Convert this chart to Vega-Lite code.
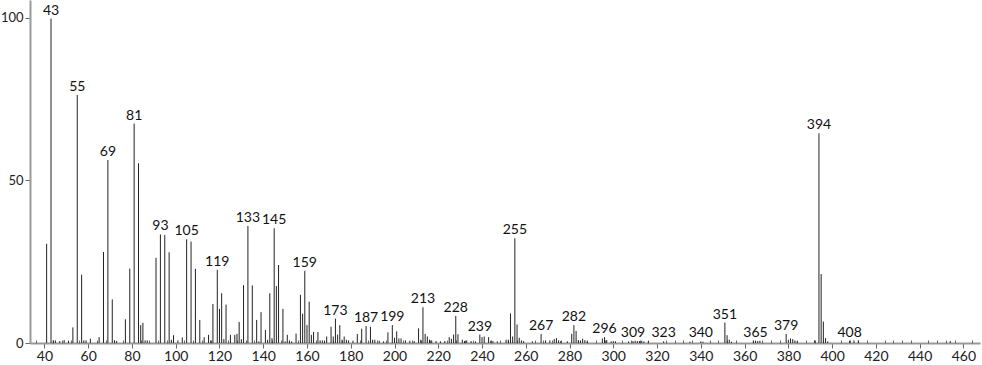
{
  "$schema": "https://vega.github.io/schema/vega-lite/v6.json",
  "width": 950,
  "height": 343,
  "autosize": {"type": "none"},
  "padding": {"left": 30, "top": 0, "right": 2, "bottom": 22},
  "background": "white",
  "config": {
    "view": {"stroke": null},
    "axis": {"grid": false, "labelFont": "Lato", "labelFontSize": 14, "labelColor": "#222", "domainColor": "#999", "domainWidth": 2, "tickColor": "#666", "tickWidth": 1, "title": null}
  },
  "data": {"values": [
    {"mz":41,"rel":30.5},{"mz":43,"rel":99.8,"lab":1},{"mz":44,"rel":0.8},{"mz":45,"rel":0.8},{"mz":47,"rel":0.6},{"mz":49,"rel":0.9},{"mz":51,"rel":0.7},{"mz":53,"rel":4.8},
    {"mz":55,"rel":76.3,"lab":1},{"mz":57,"rel":21},{"mz":58,"rel":0.8},{"mz":59,"rel":0.8},{"mz":61,"rel":1.3},{"mz":65,"rel":1.8},{"mz":67,"rel":28},{"mz":69,"rel":56.3,"lab":1},
    {"mz":71,"rel":13.4},{"mz":72,"rel":0.8},{"mz":73,"rel":0.6},{"mz":77,"rel":7.3},{"mz":79,"rel":22.9},{"mz":81,"rel":67.5,"lab":1},{"mz":83,"rel":55.3},{"mz":84,"rel":5.5},
    {"mz":85,"rel":6.2},{"mz":86,"rel":0.8},{"mz":87,"rel":0.8},{"mz":91,"rel":26.2},{"mz":93,"rel":33.4,"lab":1},{"mz":95,"rel":33.2},{"mz":97,"rel":27.9},{"mz":98,"rel":1},
    {"mz":99,"rel":2.4},{"mz":101,"rel":0.8},{"mz":103,"rel":1.7},{"mz":105,"rel":31.9,"lab":1},{"mz":107,"rel":31.2},{"mz":109,"rel":22.8},{"mz":111,"rel":7.1},{"mz":113,"rel":1.8},
    {"mz":115,"rel":2.5},{"mz":116,"rel":0.8},{"mz":117,"rel":12},{"mz":119,"rel":22.5,"lab":1},{"mz":120,"rel":10.5},{"mz":121,"rel":15.3},{"mz":122,"rel":1.2},{"mz":123,"rel":11.8},
    {"mz":125,"rel":2.5},{"mz":127,"rel":2.5},{"mz":128,"rel":2.8},{"mz":129,"rel":6.5},{"mz":130,"rel":1.2},{"mz":131,"rel":17.8},{"mz":133,"rel":36,"lab":1},{"mz":135,"rel":17.7},
    {"mz":137,"rel":7.1},{"mz":138,"rel":0.5},{"mz":139,"rel":9.5},{"mz":141,"rel":4},{"mz":142,"rel":1},{"mz":143,"rel":15.3},{"mz":144,"rel":1.5},{"mz":145,"rel":35.3,"lab":1},
    {"mz":146,"rel":17.5},{"mz":147,"rel":24},{"mz":149,"rel":10.5},{"mz":150,"rel":0.5},{"mz":151,"rel":2.5},{"mz":152,"rel":0.7},{"mz":153,"rel":0.5},{"mz":155,"rel":2.9},
    {"mz":157,"rel":14.8},{"mz":158,"rel":9},{"mz":159,"rel":22.2,"lab":1},{"mz":160,"rel":5.5},{"mz":161,"rel":12.7},{"mz":162,"rel":2.5},{"mz":163,"rel":3.4},{"mz":165,"rel":3.4},
    {"mz":166,"rel":0.8},{"mz":167,"rel":0.8},{"mz":168,"rel":0.6},{"mz":169,"rel":2},{"mz":171,"rel":5},{"mz":172,"rel":2},{"mz":173,"rel":7.5,"lab":1},{"mz":174,"rel":2.6},
    {"mz":175,"rel":5.5},{"mz":176,"rel":1},{"mz":177,"rel":2},{"mz":178,"rel":1},{"mz":179,"rel":0.8},{"mz":181,"rel":0.7},{"mz":183,"rel":2.8},{"mz":185,"rel":4.4},
    {"mz":187,"rel":5.2,"lab":1},{"mz":189,"rel":5},{"mz":190,"rel":1},{"mz":191,"rel":1},{"mz":193,"rel":0.7},{"mz":195,"rel":0.5},{"mz":197,"rel":3.3},{"mz":199,"rel":5.5,"lab":1},
    {"mz":200,"rel":1.6},{"mz":201,"rel":3.6},{"mz":202,"rel":1.4},{"mz":203,"rel":1.4},{"mz":205,"rel":0.8},{"mz":207,"rel":0.7},{"mz":209,"rel":0.6},{"mz":211,"rel":4.5},
    {"mz":212,"rel":1},{"mz":213,"rel":11,"lab":1},{"mz":214,"rel":2.8},{"mz":215,"rel":2},{"mz":216,"rel":1},{"mz":217,"rel":0.8},{"mz":219,"rel":0.6},{"mz":221,"rel":0.5},
    {"mz":223,"rel":0.6},{"mz":225,"rel":1.8},{"mz":226,"rel":1.3},{"mz":227,"rel":2.6},{"mz":228,"rel":8.3,"lab":1},{"mz":229,"rel":2.7},{"mz":231,"rel":1},{"mz":232,"rel":0.6},
    {"mz":233,"rel":0.8},{"mz":235,"rel":0.6},{"mz":237,"rel":0.5},{"mz":239,"rel":2.6,"lab":1},{"mz":240,"rel":1.8},{"mz":241,"rel":2},{"mz":243,"rel":1.8},{"mz":244,"rel":0.7},
    {"mz":245,"rel":0.6},{"mz":247,"rel":0.5},{"mz":251,"rel":1},{"mz":252,"rel":1},{"mz":253,"rel":9.1},{"mz":254,"rel":2},{"mz":255,"rel":32.2,"lab":1},{"mz":256,"rel":5.7},
    {"mz":257,"rel":1.6},{"mz":258,"rel":0.8},{"mz":259,"rel":0.6},{"mz":263,"rel":0.5},{"mz":267,"rel":2.8,"lab":1},{"mz":269,"rel":0.8},{"mz":271,"rel":0.8},{"mz":273,"rel":1.2},
    {"mz":274,"rel":1.5},{"mz":275,"rel":0.8},{"mz":276,"rel":0.6},{"mz":279,"rel":0.5},{"mz":281,"rel":2.8},{"mz":282,"rel":5.5,"lab":1},{"mz":283,"rel":3.7},{"mz":284,"rel":0.9},
    {"mz":285,"rel":0.8},{"mz":286,"rel":1.3},{"mz":287,"rel":0.9},{"mz":288,"rel":0.5},{"mz":295,"rel":1.4},{"mz":296,"rel":1.8,"lab":1},{"mz":297,"rel":0.9},{"mz":299,"rel":0.5},
    {"mz":300,"rel":0.6},{"mz":301,"rel":0.5},{"mz":307,"rel":0.5},{"mz":309,"rel":0.6,"lab":1},{"mz":310,"rel":0.7},{"mz":311,"rel":0.6},{"mz":312,"rel":0.6},{"mz":313,"rel":0.7},
    {"mz":314,"rel":0.5},{"mz":316,"rel":0.5},{"mz":323,"rel":0.5,"lab":1},{"mz":335,"rel":0.4},{"mz":340,"rel":0.5,"lab":1},{"mz":341,"rel":0.4},{"mz":351,"rel":6.3,"lab":1},
    {"mz":352,"rel":2.4},{"mz":353,"rel":1},{"mz":354,"rel":0.4},{"mz":364,"rel":0.7},{"mz":365,"rel":0.7,"lab":1},{"mz":366,"rel":0.6},{"mz":367,"rel":0.7},{"mz":379,"rel":2.8,"lab":1},
    {"mz":380,"rel":1},{"mz":381,"rel":1.4},{"mz":382,"rel":1.2},{"mz":383,"rel":0.8},{"mz":384,"rel":0.5},{"mz":392,"rel":0.8},{"mz":394,"rel":64.5,"lab":1},{"mz":395,"rel":21.2},
    {"mz":396,"rel":6.6},{"mz":397,"rel":1.5},{"mz":398,"rel":0.5},{"mz":408,"rel":0.7,"lab":1},{"mz":410,"rel":0.8},{"mz":412,"rel":0.8},{"mz":454,"rel":0.6}
  ]},
  "layer": [
    {
      "mark": {"type": "rule", "color": "#222", "strokeWidth": 1},
      "encoding": {
        "x": {"field": "mz", "type": "quantitative", "scale": {"domain": [33.4, 467.6], "nice": false, "zero": false},
              "axis": {"orient": "bottom", "values": [40,60,80,100,120,140,160,180,200,220,240,260,280,300,320,340,360,380,400,420,440,460], "tickSize": 5, "labelPadding": 1}},
        "y": {"field": "rel", "type": "quantitative", "scale": {"domain": [0, 105.5], "nice": false},
              "axis": {"values": [0, 50, 100], "tickSize": 5, "labelPadding": 2, "labelFontSize": 13}},
        "y2": {"datum": 0}
      }
    },
    {
      "transform": [{"filter": "datum.lab"}],
      "mark": {"type": "text", "font": "Lato", "fontSize": 14, "color": "#111", "dy": -4, "baseline": "alphabetic"},
      "encoding": {
        "x": {"field": "mz", "type": "quantitative",
              "axis": {"orient": "bottom", "values": [36,44,48,52,56,64,68,72,76,84,88,92,96,104,108,112,116,124,128,132,136,144,148,152,156,164,168,172,176,184,188,192,196,204,208,212,216,224,228,232,236,244,248,252,256,264,268,272,276,284,288,292,296,304,308,312,316,324,328,332,336,344,348,352,356,364,368,372,376,384,388,392,396,404,408,412,416,424,428,432,436,444,448,452,456,464],
                       "labels": false, "domain": false, "tickSize": -3}},
        "y": {"field": "rel", "type": "quantitative"},
        "text": {"field": "mz", "type": "nominal"}
      }
    }
  ],
  "resolve": {"axis": {"x": "independent"}}
}
